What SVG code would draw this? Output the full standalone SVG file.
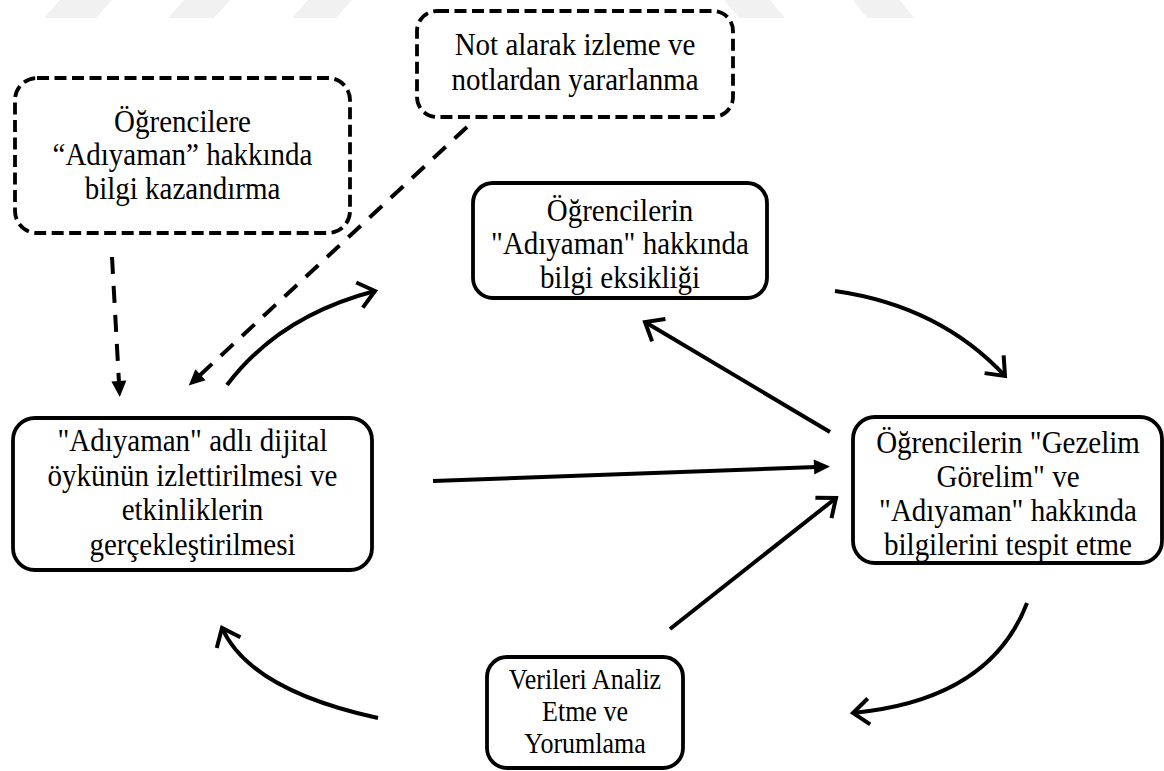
<svg xmlns="http://www.w3.org/2000/svg" width="1164" height="771" viewBox="0 0 1164 771">
  <style>
    .t { font-family: 'Liberation Serif', 'DejaVu Serif', serif; font-size: 29px; fill: #000; text-anchor: middle; }
    .s { font-size: 26px; }
    .box { fill: #fff; stroke: #000; stroke-width: 3.8; }
    .dbox { fill: #fff; stroke: #000; stroke-width: 3.8; stroke-dasharray: 12 5.5; }
    .ln { fill: none; stroke: #000; stroke-width: 4; }
    .dl { fill: none; stroke: #000; stroke-width: 4; stroke-dasharray: 17 12; }
    .wm { fill: #f1f1f1; }
  </style>
  <defs>
    <marker id="open" markerUnits="userSpaceOnUse" viewBox="-22 -18 26 36" markerWidth="26" markerHeight="36" refX="0" refY="0" orient="auto" overflow="visible">
      <path d="M-16,-13 L0,0 L-16,13" fill="none" stroke="#000" stroke-width="4" stroke-linejoin="miter"/>
    </marker>
    <marker id="solid" markerUnits="userSpaceOnUse" viewBox="-4 -9 20 18" markerWidth="20" markerHeight="18" refX="0" refY="0" orient="auto" overflow="visible">
      <path d="M-2,-7.5 L14,0 L-2,7.5 z" fill="#000"/>
    </marker>
  </defs>

  <rect width="1164" height="771" fill="#fff"/>

  <!-- faint background bands along the top edge -->
  <g id="bands">
    <polygon class="wm" points="60,0 112,0 96,18 44,18"/>
    <polygon class="wm" points="184,0 230,0 214,18 168,18"/>
    <polygon class="wm" points="308,0 352,0 336,18 292,18"/>
    <polygon class="wm" points="724,0 770,0 785,18 739,18"/>
    <polygon class="wm" points="853,0 900,0 914,18 867,18"/>
  </g>

  <!-- connectors -->
  <g id="connectors">
    <path class="ln" d="M227,385 Q279,316 375,291" marker-end="url(#open)"/>
    <path class="ln" d="M835,291 Q940,306 1005,376" marker-end="url(#open)"/>
    <path class="ln" d="M830,432 L645,322" marker-end="url(#open)"/>
    <path class="ln" d="M433,481 L816,467" marker-end="url(#solid)"/>
    <path class="ln" d="M670,629 L836,498" marker-end="url(#open)"/>
    <path class="ln" d="M1027,603 Q990,700 853,713" marker-end="url(#open)"/>
    <path class="ln" d="M378,718 Q250,690 222,628" marker-end="url(#open)"/>
    <path class="dl" d="M112,257 L119,383" marker-end="url(#solid)"/>
    <path class="dl" d="M467,127 L199,376" marker-end="url(#solid)"/>
  </g>

  <g id="node-bilgi-kazandirma">
    <rect class="dbox" x="15" y="78" width="335" height="155" rx="22"/>
    <text class="t" transform="translate(182.5,132) scale(1,1.1)"><tspan x="0" y="0">Öğrencilere</tspan><tspan x="0" y="30.45">“Adıyaman” hakkında</tspan><tspan x="0" y="60.9">bilgi kazandırma</tspan></text>
  </g>

  <g id="node-not-alma">
    <rect class="dbox" x="417" y="11" width="316" height="106" rx="20"/>
    <text class="t" transform="translate(575,55) scale(1,1.1)"><tspan x="0" y="0">Not alarak izleme ve</tspan><tspan x="0" y="31.8">notlardan yararlanma</tspan></text>
  </g>

  <g id="node-bilgi-eksikligi">
    <rect class="box" x="473" y="183" width="294" height="115" rx="20"/>
    <text class="t" transform="translate(620,221) scale(1,1.1)"><tspan x="0" y="0">Öğrencilerin</tspan><tspan x="0" y="30.45">"Adıyaman" hakkında</tspan><tspan x="0" y="60.9">bilgi eksikliği</tspan></text>
  </g>

  <g id="node-dijital-oyku">
    <rect class="box" x="13" y="418" width="359" height="152" rx="22"/>
    <text class="t" transform="translate(192.5,451) scale(1,1.1)"><tspan x="0" y="0">"Adıyaman" adlı dijital</tspan><tspan x="0" y="31.5">öykünün izlettirilmesi ve</tspan><tspan x="0" y="63">etkinliklerin</tspan><tspan x="0" y="94.5">gerçekleştirilmesi</tspan></text>
  </g>

  <g id="node-tespit">
    <rect class="box" x="853" y="417" width="309" height="146" rx="22"/>
    <text class="t" transform="translate(1008,453) scale(1,1.1)"><tspan x="0" y="0">Öğrencilerin "Gezelim</tspan><tspan x="0" y="30.9">Görelim" ve</tspan><tspan x="0" y="61.8">"Adıyaman" hakkında</tspan><tspan x="0" y="92.7">bilgilerini tespit etme</tspan></text>
  </g>

  <g id="node-analiz">
    <rect class="box" x="487" y="657" width="196" height="111" rx="20"/>
    <text class="t s" transform="translate(585,689) scale(1,1.1)"><tspan x="0" y="0">Verileri Analiz</tspan><tspan x="0" y="29.1">Etme ve</tspan><tspan x="0" y="58.2">Yorumlama</tspan></text>
  </g>
</svg>
